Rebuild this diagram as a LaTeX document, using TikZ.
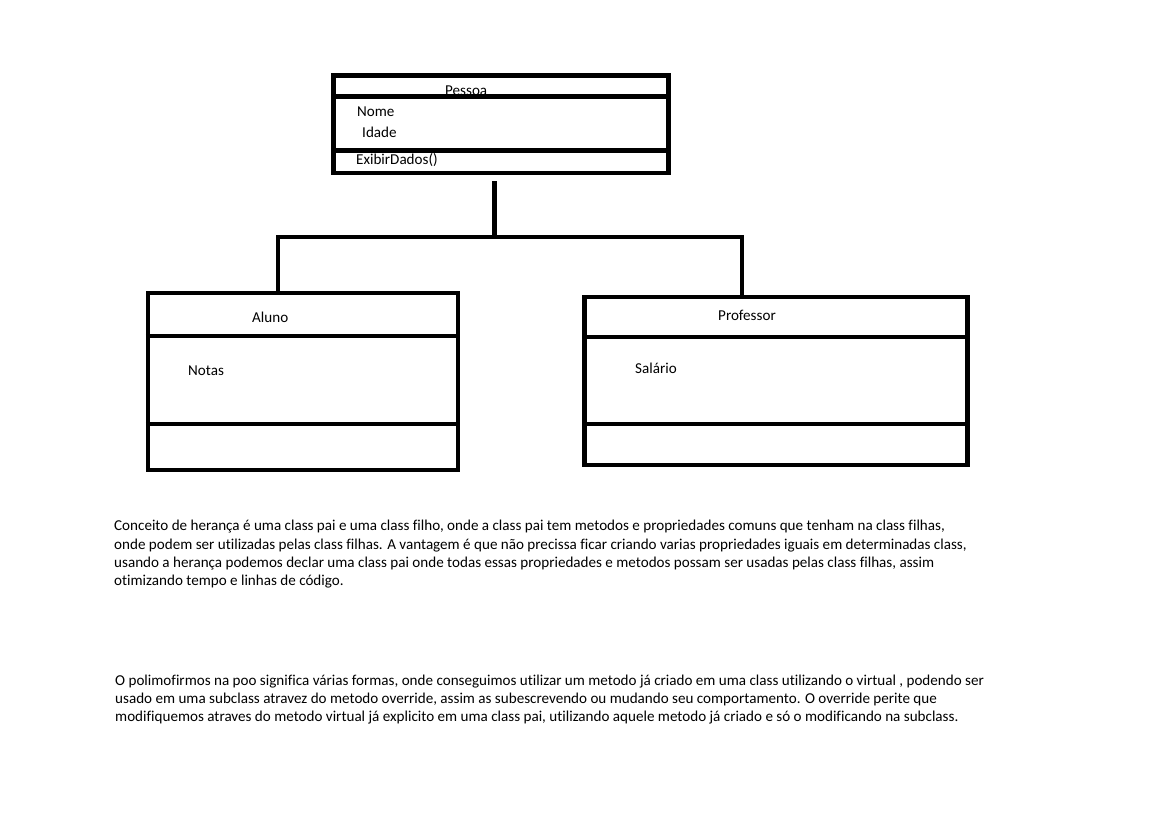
\documentclass[tikz,border=0pt]{standalone}
\usepackage{fontspec}
\setmainfont{Carlito}[Ligatures=NoCommon]
\usepackage{tikz}
\usetikzlibrary{calc}
\tikzset{
  classbox/.style={draw, line width=4.5pt, inner sep=0pt},
  divline/.style={line width=4.5pt},
  conn/.style={line width=4.5pt},
  lab/.style={anchor=base west, inner sep=0pt, font=\fontsize{15.1}{18.2}\selectfont},
  para/.style={lab, align=left},
}

\begin{document}
\begin{tikzpicture}[x=1pt, y=-1pt]
  \useasboundingbox (0,0) rectangle (1152,821);

  % classes
  \node[classbox, minimum width=335pt, minimum height=97.5pt] (pessoa) at (501,124.25) {};
  \node[classbox, minimum width=310pt, minimum height=177pt] (aluno) at (303,381.5) {};
  \node[classbox, minimum width=383pt, minimum height=168pt] (professor) at (776,381) {};

  % class texts
  \node[lab] (tPessoa) at (445,95.5) {Pessoa};
  \node[lab] (tNome) at (357,117) {Nome};
  \node[lab] (tIdade) at (362,137.5) {Idade};
  \node[lab] (tExibir) at (356,164.5) {ExibirDados()};
  \node[lab] (tAluno) at (252,323) {Aluno};
  \node[lab] (tNotas) at (188,375) {Notas};
  \node[lab] (tProfessor) at (718,320) {Professor};
  \node[lab] (tSalario) at (635,373) {Salário};

  % dividers
  \draw[divline] (pessoa.west |- 0,96.5) -- (pessoa.east |- 0,96.5);
  \draw[divline] (pessoa.west |- 0,150.5) -- (pessoa.east |- 0,150.5);
  \draw[divline] (aluno.west |- 0,336) -- (aluno.east |- 0,336);
  \draw[divline] (aluno.west |- 0,424) -- (aluno.east |- 0,424);
  \draw[divline] (professor.west |- 0,337) -- (professor.east |- 0,337);
  \draw[divline] (professor.west |- 0,424) -- (professor.east |- 0,424);

  % inheritance
  \coordinate (juncao) at (494.7,237);
  \draw[conn] ($(pessoa.south -| juncao)+(0,6)$) -- (juncao);
  \draw[conn] (juncao) -| ($(aluno.north)+(-25,0)$);
  \draw[conn] (juncao) -| ($(professor.north)+(-34,0)$);

  % notes (base = last line)
  \node[para] (heranca) at (114,585.5) {Conceito de herança é uma class pai e uma class filho, onde a class pai tem metodos e propriedades comuns que tenham na class filhas,\\
    onde podem ser utilizadas pelas class filhas. A vantagem é que não precissa ficar criando varias propriedades iguais em determinadas class,\\
    usando a herança podemos declar uma class pai onde todas essas propriedades e metodos possam ser usadas pelas class filhas, assim\\
    otimizando tempo e linhas de código.};
  \node[para] (polimorfismo) at (115,721.5) {O polimofirmos na poo significa várias formas, onde conseguimos utilizar um metodo já criado em uma class utilizando o virtual , podendo ser\\
    usado em uma subclass atravez do metodo override, assim as subescrevendo ou mudando seu comportamento. O override perite que\\
    modifiquemos atraves do metodo virtual já explicito em uma class pai, utilizando aquele metodo já criado e só o modificando na subclass.};
\end{tikzpicture}
\end{document}
